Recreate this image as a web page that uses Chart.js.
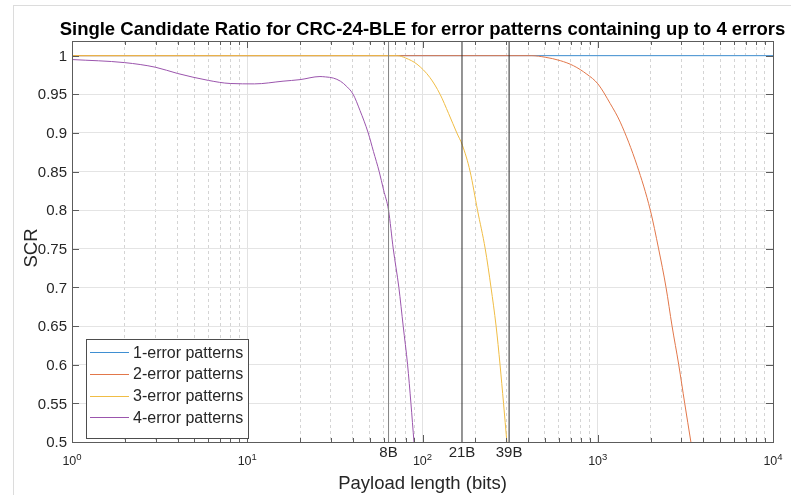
<!DOCTYPE html>
<html>
<head>
<meta charset="utf-8">
<script src="https://cdn.jsdelivr.net/npm/chart.js@4.4.1/dist/chart.umd.min.js"></script>
<style>
  html, body { margin: 0; padding: 0; background: #fff; }
  #wrap { position: relative; width: 791px; height: 495px; overflow: hidden; }
  #frame { position: absolute; left: 13px; top: 5px; width: 800px; height: 500px; border-left: 1px solid #dcdcdc; border-top: 1px solid #dcdcdc; }
  canvas { position: absolute; left: 0; top: 0; }
</style>
</head>
<body>
<div id="wrap">
  <div id="frame"></div>
  <canvas id="myChart" width="791" height="495"></canvas>
</div>
<script>
// values (x = payload length in bits, y = SCR)
const seriesNames = ['1-error patterns', '2-error patterns', '3-error patterns', '4-error patterns'];

const oneErrBits = [1, 10000];
const oneErrScr = [1, 1];

const twoErrBits = [1, 420, 501, 611, 727, 867, 1002, 1178, 1344, 1675, 1995, 2225, 2453, 2655, 2898, 3135, 3400];
const twoErrScr = [1, 1, 0.998, 0.9936, 0.987, 0.976, 0.9635, 0.938, 0.914, 0.858, 0.80, 0.75, 0.70, 0.65, 0.60, 0.55, 0.50];

const threeErrBits = [1, 72, 80, 93, 110, 126, 141, 157, 169, 187, 206, 228, 246, 263, 277, 290, 303];
const threeErrScr = [1, 1, 0.997, 0.989, 0.972, 0.95, 0.925, 0.90, 0.884, 0.85, 0.80, 0.75, 0.70, 0.65, 0.60, 0.55, 0.50];

const fourErrBits = [1, 2, 3, 4, 6, 8, 11, 16, 20, 26, 28, 31, 34, 37, 40.2, 44, 49, 52.5, 56.6, 60, 64, 68.1, 73.3, 77.6, 82.2, 85.9, 89.4];
const fourErrScr = [0.995, 0.991, 0.985, 0.977, 0.968, 0.964, 0.9635, 0.967, 0.969, 0.973, 0.9725, 0.971, 0.967, 0.96, 0.95, 0.929, 0.90, 0.876, 0.85, 0.826, 0.80, 0.75, 0.70, 0.65, 0.60, 0.55, 0.50];

const markerBits = [64, 168, 312];
const markerLabels = ['8B', '21B', '39B'];

const xMajor = [1, 10, 100, 1000, 10000];
const yTicks = [0.5, 0.55, 0.6, 0.65, 0.7, 0.75, 0.8, 0.85, 0.9, 0.95, 1];

const fontFam = '"Liberation Sans", Arial, sans-serif';
const textColor = '#262626';
const lineColors = ['#3f8fd2', '#e2774a', '#f0bd45', '#9b55ad'];
const markerColors = ['#858585', '#2b2b2b', '#2b2b2b'];

// minor decades 2..9 for the log grid
let xGrid = [];
for (let d = 0; d < xMajor.length; d++) {
    xGrid.push(xMajor[d]);
    if (d < xMajor.length - 1) {
        for (let m = 2; m <= 9; m++) xGrid.push(m * xMajor[d]);
    }
}
const isMajor = (v) => xMajor.some(m => Math.abs(m - v) < 1e-6);

const toPoints = (xs, ys) => xs.map((x, i) => ({ x: x, y: ys[i] }));

const curve = (idx, xs, ys, order) => ({
    label: seriesNames[idx],
    data: toPoints(xs, ys),
    borderColor: lineColors[idx],
    backgroundColor: lineColors[idx],
    borderWidth: 1,
    pointRadius: 0,
    fill: false,
    cubicInterpolationMode: 'monotone',
    order: order
});

let datasets = [
    curve(0, oneErrBits, oneErrScr, 4),
    curve(1, twoErrBits, twoErrScr, 3),
    curve(2, threeErrBits, threeErrScr, 2),
    curve(3, fourErrBits, fourErrScr, 1)
];
markerBits.forEach((b, i) => {
    datasets.push({
        label: markerLabels[i],
        data: [{ x: b, y: 0.5 }, { x: b, y: 1.019 }],
        borderColor: markerColors[i],
        borderWidth: 1,
        pointRadius: 0,
        tension: 0,
        fill: false,
        order: 0
    });
});

const matlabLook = {
    id: 'matlabLook',
    afterDatasetsDraw(chart) {
        const ctx = chart.ctx;
        const a = chart.chartArea;
        const xs = chart.scales.x;
        const ys = chart.scales.y;
        ctx.save();

        // axes box
        ctx.strokeStyle = '#5c5c5c';
        ctx.lineWidth = 1;
        ctx.strokeRect(Math.round(a.left) + 0.5, Math.round(a.top) + 0.5,
            Math.round(a.right - a.left), Math.round(a.bottom - a.top));

        // inward ticks
        ctx.beginPath();
        xGrid.forEach(v => {
            const px = Math.round(xs.getPixelForValue(v)) + 0.5;
            const len = isMajor(v) ? 7 : 4;
            ctx.moveTo(px, a.bottom); ctx.lineTo(px, a.bottom - len);
            ctx.moveTo(px, a.top); ctx.lineTo(px, a.top + len);
        });
        yTicks.forEach(v => {
            const py = Math.round(ys.getPixelForValue(v)) + 0.5;
            ctx.moveTo(a.left, py); ctx.lineTo(a.left + 7, py);
            ctx.moveTo(a.right, py); ctx.lineTo(a.right - 7, py);
        });
        ctx.stroke();

        ctx.fillStyle = textColor;

        // y tick labels
        ctx.font = '15px ' + fontFam;
        ctx.textAlign = 'right';
        ctx.textBaseline = 'middle';
        yTicks.forEach(v => {
            ctx.fillText(String(Number(v.toFixed(2))), a.left - 5, ys.getPixelForValue(v) + 1);
        });

        // x tick labels 10^n
        ctx.textAlign = 'left';
        ctx.textBaseline = 'alphabetic';
        xMajor.forEach(v => {
            const px = xs.getPixelForValue(v);
            const exp = String(Math.round(Math.log10(v)));
            ctx.font = '12.5px ' + fontFam;
            const wBase = ctx.measureText('10').width;
            ctx.font = '9.5px ' + fontFam;
            const wExp = ctx.measureText(exp).width;
            const left = px - (wBase + wExp) / 2;
            ctx.font = '12.5px ' + fontFam;
            ctx.fillText('10', left, 465);
            ctx.font = '9.5px ' + fontFam;
            ctx.fillText(exp, left + wBase, 459.5);
        });

        // byte markers
        ctx.font = '15px ' + fontFam;
        ctx.textAlign = 'center';
        markerBits.forEach((b, i) => {
            ctx.fillText(markerLabels[i], xs.getPixelForValue(b), 457);
        });

        // axis titles
        const cx = (a.left + a.right) / 2;
        ctx.font = '18.5px ' + fontFam;
        ctx.fillText('Payload length (bits)', cx, 488.5);
        ctx.save();
        ctx.translate(37, 248);
        ctx.rotate(-Math.PI / 2);
        ctx.fillText('SCR', 0, 0);
        ctx.restore();

        // title
        ctx.fillStyle = '#000';
        ctx.font = 'bold 18.5px ' + fontFam;
        ctx.fillText('Single Candidate Ratio for CRC-24-BLE for error patterns containing up to 4 errors', cx, 35);

        // legend
        const lx = 86, ly = 339, lw = 162, lh = 99;
        ctx.fillStyle = '#fff';
        ctx.fillRect(lx, ly, lw, lh);
        ctx.strokeStyle = '#4d4d4d';
        ctx.strokeRect(lx + 0.5, ly + 0.5, lw, lh);
        ctx.font = '16px ' + fontFam;
        ctx.textAlign = 'left';
        ctx.textBaseline = 'middle';
        for (let i = 0; i < seriesNames.length; i++) {
            const ry = 352.3 + i * 21.67;
            ctx.strokeStyle = lineColors[i];
            ctx.beginPath();
            ctx.moveTo(90, Math.round(ry) + 0.5);
            ctx.lineTo(129, Math.round(ry) + 0.5);
            ctx.stroke();
            ctx.fillStyle = textColor;
            ctx.fillText(seriesNames[i], 133, ry + 1);
        }
        ctx.restore();
    }
};

const ctx = document.getElementById('myChart').getContext('2d');
window.grafica = new Chart(ctx, {
    type: 'line',
    data: { datasets: datasets },
    options: {
        responsive: false,
        animation: false,
        layout: { padding: { left: 72, right: 18, top: 41, bottom: 53 } },
        plugins: {
            legend: { display: false },
            title: { display: false },
            tooltip: { enabled: false }
        },
        scales: {
            x: {
                type: 'logarithmic',
                min: 1,
                max: 10000,
                afterBuildTicks: (scale) => {
                    scale.ticks = xGrid.map(v => ({ value: v }));
                },
                ticks: { display: false },
                grid: {
                    drawTicks: false,
                    color: (c) => (c.tick && isMajor(c.tick.value)) ? '#e2e2e2' : '#d4d4d4',
                    lineWidth: 1
                },
                border: {
                    display: false,
                    dash: (c) => (c.tick && isMajor(c.tick.value)) ? [] : [3, 3]
                }
            },
            y: {
                type: 'linear',
                min: 0.5,
                max: 1.019,
                afterBuildTicks: (scale) => {
                    scale.ticks = yTicks.map(v => ({ value: v }));
                },
                ticks: { display: false },
                grid: { drawTicks: false, color: '#e4e4e4', lineWidth: 1 },
                border: { display: false }
            }
        }
    },
    plugins: [matlabLook]
});
</script>
</body>
</html>
